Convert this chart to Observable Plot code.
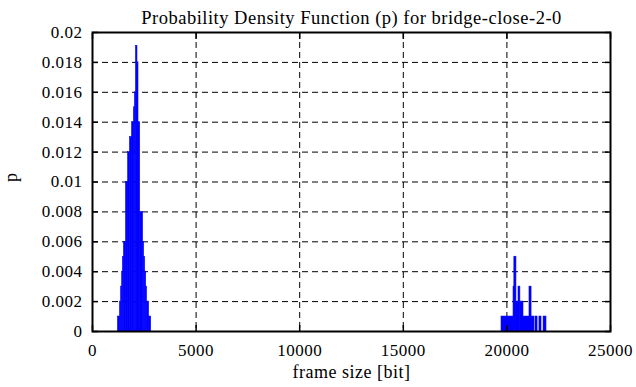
<!DOCTYPE html>
<html>
<head>
<meta charset="utf-8">
<script src="https://cdn.jsdelivr.net/npm/d3@7"></script>
<script src="https://cdn.jsdelivr.net/npm/@observablehq/plot@0.6"></script>
<style>
  html, body { margin: 0; padding: 0; background: #fff; }
  #chart svg { display: block; }
  #chart svg text { letter-spacing: 0.5px; }
</style>
</head>
<body>
<div id="chart"></div>
<script>
// Histogram bins (frame size in bits) and probability
const binFrom = [1230, 1330, 1380, 1430, 1470, 1520, 1620, 1720, 1810, 1910, 2000, 2050, 2100, 2170, 2220, 2300, 2440, 2490, 2540, 2590, 2630, 2730,
                 19740, 20320, 20360, 20460, 20560, 20650, 20800, 21090, 21190, 21380, 21570, 21770];
const binTo   = [1330, 1380, 1430, 1470, 1520, 1620, 1720, 1810, 1910, 2000, 2050, 2100, 2170, 2220, 2300, 2440, 2490, 2540, 2590, 2630, 2730, 2830,
                 20320, 20360, 20460, 20560, 20650, 20800, 21090, 21190, 21330, 21480, 21670, 21910];
const probability = [0.001, 0.002, 0.003, 0.004, 0.005, 0.006, 0.010, 0.012, 0.013, 0.014, 0.015, 0.016, 0.0191, 0.018, 0.014, 0.008, 0.006, 0.005, 0.004, 0.003, 0.002, 0.001,
                     0.001, 0.003, 0.005, 0.002, 0.003, 0.002, 0.001, 0.003, 0.001, 0.001, 0.001, 0.001];

const xTicks = [0, 5000, 10000, 15000, 20000, 25000];
const yTicks = [0, 0.002, 0.004, 0.006, 0.008, 0.01, 0.012, 0.014, 0.016, 0.018, 0.02];

const titleText = "Probability Density Function (p) for bridge-close-2-0";
const xLabel = "frame size [bit]";
const yLabel = "p";

const bins = binFrom.map((x1, i) => ({x1, x2: binTo[i], p: probability[i]}));
const font = "'Liberation Serif', 'DejaVu Serif', serif";

const chart = Plot.plot({
  width: 636,
  height: 387,
  marginLeft: 92,
  marginRight: 26,
  marginTop: 32,
  marginBottom: 56,
  style: {fontFamily: font, fontSize: "17px", color: "black", background: "white"},
  x: {domain: [0, 25000]},
  y: {domain: [0, 0.02]},
  marks: [
    Plot.gridX(xTicks.slice(1, -1), {stroke: "black", strokeOpacity: 1, strokeDasharray: "6,4", strokeWidth: 1}),
    Plot.gridY(yTicks.slice(1, -1), {stroke: "black", strokeOpacity: 1, strokeDasharray: "6,4", strokeWidth: 1}),
    Plot.rectY(bins, {x1: "x1", x2: "x2", y1: 0, y2: "p", fill: "#0000ff", stroke: "#0000ff", strokeWidth: 0.6}),
    // inward tick marks (all four sides)
    Plot.axisX(xTicks, {anchor: "bottom", tickSize: -6, tickFormat: () => "", label: null, strokeWidth: 1.5}),
    Plot.axisX(xTicks, {anchor: "top", tickSize: -6, tickFormat: () => "", label: null, strokeWidth: 1.5}),
    Plot.axisY(yTicks, {anchor: "left", tickSize: -6, tickFormat: () => "", label: null, strokeWidth: 1.5}),
    Plot.axisY(yTicks, {anchor: "right", tickSize: -6, tickFormat: () => "", label: null, strokeWidth: 1.5}),
    // tick labels
    Plot.axisX(xTicks, {anchor: "bottom", tickSize: 0, tickPadding: 12, tickFormat: d => String(d), label: null, fontSize: 17}),
    Plot.axisY(yTicks, {anchor: "left", tickSize: 0, tickPadding: 10, tickFormat: d => String(d), label: null, fontSize: 17}),
    Plot.frame({stroke: "black", strokeWidth: 2}),
    // title and axis labels
    Plot.text([titleText], {frameAnchor: "top", dy: -22, fontSize: 18.5, fill: "black"}),
    Plot.text([xLabel], {frameAnchor: "bottom", dy: 46, fontSize: 18, fill: "black"}),
    Plot.text([yLabel], {frameAnchor: "left", dx: -81, rotate: -90, fontSize: 18, fill: "black"})
  ]
});
document.getElementById("chart").appendChild(chart);
</script>
</body>
</html>
